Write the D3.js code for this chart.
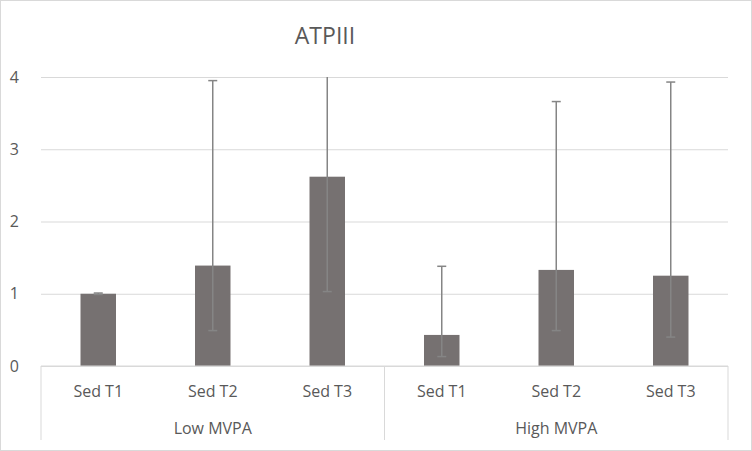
<!DOCTYPE html>
<html>
<head>
<meta charset="utf-8">
<script src="https://cdn.jsdelivr.net/npm/d3@7"></script>
<style>
  body { margin: 0; background: #fff; }
  svg { display: block; font-family: "Open Sans", "Liberation Sans", sans-serif; }
</style>
</head>
<body>
<div id="chart"></div>
<script>
// Data
const groups = ['Low MVPA', 'High MVPA'];
const categories = ['Sed T1', 'Sed T2', 'Sed T3'];
const values = [1.00, 1.39, 2.62, 0.43, 1.33, 1.25];
const errHigh = [1.01, 3.95, 4.21, 1.38, 3.66, 3.93];
const errLow = [0.99, 0.49, 1.03, 0.13, 0.49, 0.40];
const yTicks = [0, 1, 2, 3, 4];

const width = 752, height = 451;
const margin = { top: 77, right: 24, bottom: 85, left: 41 };
const innerW = width - margin.left - margin.right;
const innerH = height - margin.top - margin.bottom;

const rows = [];
groups.forEach((g, gi) => categories.forEach((c, ci) => {
  const i = gi * categories.length + ci;
  rows.push({ key: g + '|' + c, group: g, cat: c, value: values[i], hi: errHigh[i], lo: errLow[i] });
}));

const svg = d3.select('#chart').append('svg')
  .attr('width', width)
  .attr('height', height);

// outer border
svg.append('rect')
  .attr('x', 0.5).attr('y', 0.5)
  .attr('width', width - 1).attr('height', height - 1)
  .attr('fill', '#fff').attr('stroke', '#d9d9d9');

svg.append('text')
  .attr('x', 325).attr('y', 44)
  .attr('text-anchor', 'middle')
  .attr('font-size', 23)
  .attr('fill', '#595959')
  .text('ATPIII');

const g = svg.append('g').attr('transform', `translate(${margin.left},${margin.top})`);

const x = d3.scaleBand().domain(rows.map(d => d.key)).range([0, innerW]).paddingInner(0.69).paddingOuter(0.345);
const y = d3.scaleLinear().domain([0, 4]).range([innerH, 0]);

// gridlines
g.append('g')
  .attr('class', 'grid')
  .call(d3.axisLeft(y).tickValues(yTicks).tickSize(-innerW).tickFormat(''))
  .call(s => s.select('.domain').remove())
  .call(s => s.selectAll('line').attr('stroke', '#d9d9d9').attr('stroke-width', 1));

// y labels
g.append('g')
  .call(d3.axisLeft(y).tickValues(yTicks).tickSize(0).tickPadding(22).tickFormat(d3.format('d')))
  .call(s => s.select('.domain').remove())
  .call(s => s.selectAll('text').attr('fill', '#595959').attr('font-size', 16).attr('font-family', '"Open Sans", "Liberation Sans", sans-serif'));

g.append('clipPath').attr('id', 'plotclip')
  .append('rect').attr('x', 0).attr('y', 0).attr('width', innerW).attr('height', innerH);

// bars
g.selectAll('rect.bar')
  .data(rows)
  .enter()
  .append('rect')
  .attr('class', 'bar')
  .attr('x', d => x(d.key))
  .attr('y', d => y(d.value))
  .attr('width', x.bandwidth())
  .attr('height', d => innerH - y(d.value))
  .attr('fill', '#767171');

// error bars
const err = g.append('g').attr('clip-path', 'url(#plotclip)')
  .selectAll('g.err')
  .data(rows)
  .enter()
  .append('g')
  .attr('class', 'err')
  .attr('transform', d => `translate(${x(d.key) + x.bandwidth() / 2},0)`);

err.append('line')
  .attr('y1', d => y(d.lo)).attr('y2', d => y(d.hi))
  .attr('stroke', '#858585').attr('stroke-width', 1.5);
err.append('line')
  .attr('x1', -4.5).attr('x2', 4.5)
  .attr('y1', d => y(d.hi)).attr('y2', d => y(d.hi))
  .attr('stroke', '#858585').attr('stroke-width', 1.5);
err.append('line')
  .attr('x1', -4.5).attr('x2', 4.5)
  .attr('y1', d => y(d.lo)).attr('y2', d => y(d.lo))
  .attr('stroke', '#858585').attr('stroke-width', 1.5);

// category axis box
const axisG = g.append('g').attr('transform', `translate(0,${innerH})`);
axisG.append('line')
  .attr('x1', 0).attr('x2', innerW)
  .attr('stroke', '#d9d9d9');

const groupScale = d3.scaleBand().domain(groups).range([0, innerW]);
const boundaries = [0, ...groups.map(gr => groupScale(gr) + groupScale.bandwidth())];
axisG.selectAll('line.sep')
  .data(boundaries)
  .enter()
  .append('line')
  .attr('class', 'sep')
  .attr('x1', d => d).attr('x2', d => d)
  .attr('y1', 0).attr('y2', 74)
  .attr('stroke', '#d9d9d9');

axisG.selectAll('text.cat')
  .data(rows)
  .enter()
  .append('text')
  .attr('class', 'cat')
  .attr('x', d => x(d.key) + x.bandwidth() / 2)
  .attr('y', 31)
  .attr('text-anchor', 'middle')
  .attr('font-size', 16)
  .attr('fill', '#595959')
  .text(d => d.cat);

axisG.selectAll('text.grp')
  .data(groups)
  .enter()
  .append('text')
  .attr('class', 'grp')
  .attr('x', d => groupScale(d) + groupScale.bandwidth() / 2)
  .attr('y', 68)
  .attr('text-anchor', 'middle')
  .attr('font-size', 16)
  .attr('fill', '#595959')
  .text(d => d);
</script>
</body>
</html>
